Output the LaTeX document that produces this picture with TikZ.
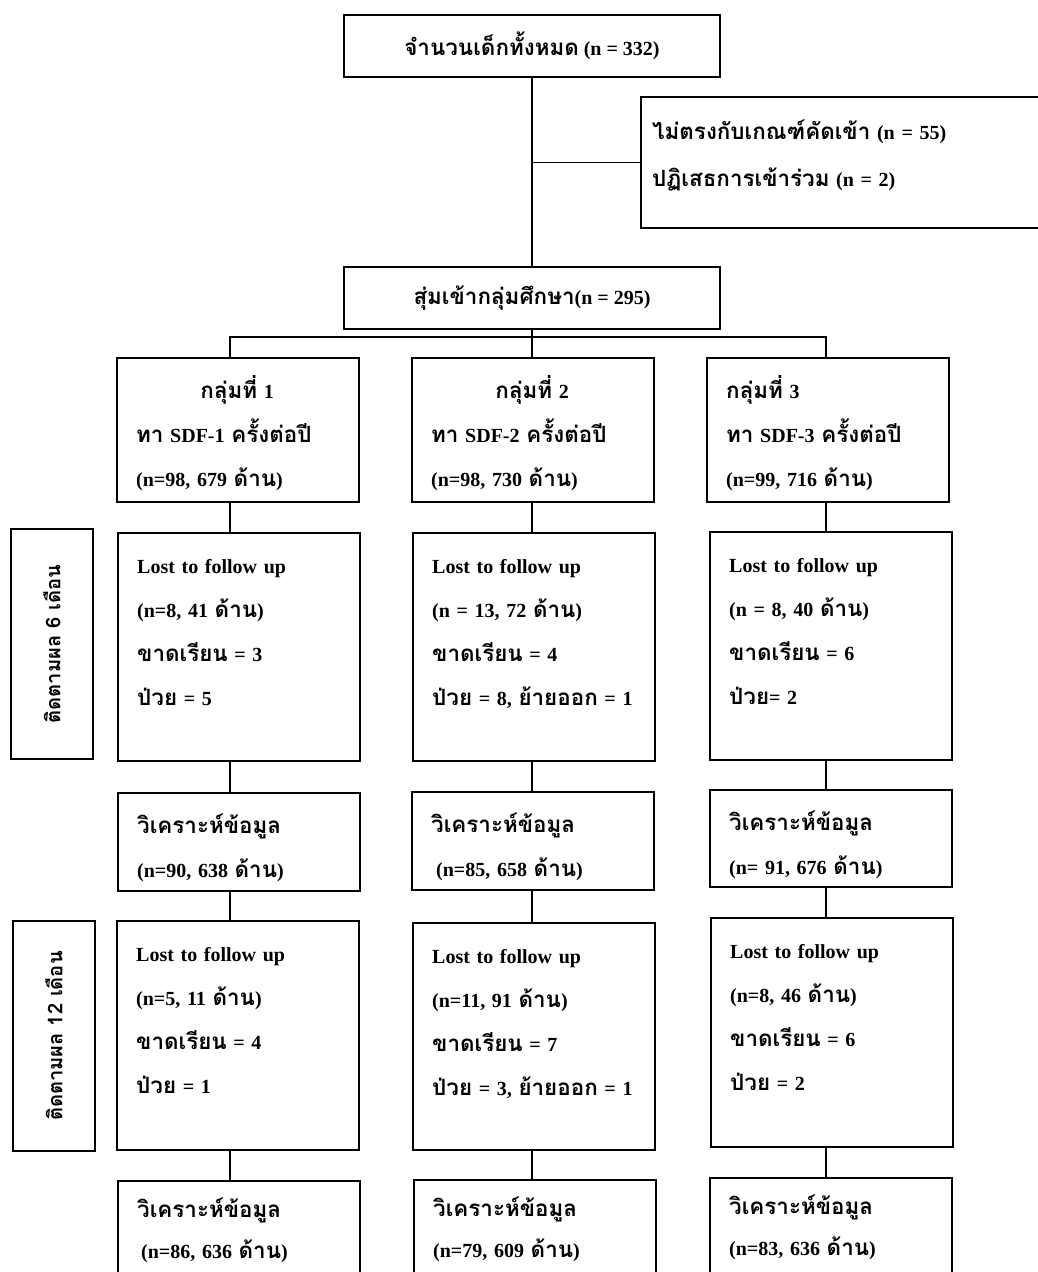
\documentclass[tikz,border=0pt]{standalone}
\usepackage{fontspec}
\setmainfont{Liberation Serif}
\newfontfamily\thaifont[Script=Thai,Scale=1.12]{Loma}
\newcommand{\thw}[1]{{\thaifont #1}}
\tikzset{
  flowbox/.style={draw, line width=1.6pt, anchor=north west, minimum width=242pt, inner sep=0pt},
  flowtext/.style={anchor=base west, align=left, text width=202pt, inner sep=0pt, xshift=20pt, yshift=-41pt},
  flowline/.style={line width=1.6pt},
  sidebox/.style={draw, line width=1.6pt, rotate=90, minimum width=230pt, minimum height=82pt, inner sep=0pt, font=\fontsize{18}{20}\selectfont\bfseries}
}
\begin{document}
\begin{tikzpicture}[
    x=1pt, y=-1pt,
    every node/.style={font=\fontsize{20}{44}\selectfont\bfseries}
  ]
  \path[use as bounding box] (0,0) rectangle (1038,1272);
  \clip (0,0) rectangle (1038,1272);

  % enrolment
  \node[draw, line width=1.6pt, minimum width=376pt, minimum height=62pt] (total) at (532,46) {\thw{จำนวนเด็กทั้งหมด} (n = 332)};
  \node[flowbox, minimum width=430pt, minimum height=131pt] (excl) at (640,96) {};
  \node[flowtext, text width=380pt, xshift=-8pt, yshift=-2pt] (exclt) at (excl.north west) {\thw{ไม่ตรงกับเกณฑ์คัดเข้า} (n = 55)\\[3pt]\thw{ปฏิเสธการเข้าร่วม} (n = 2)};
  \node[draw, line width=1.6pt, minimum width=376pt, minimum height=62pt] (rand) at (532,298) {\thw{สุ่มเข้ากลุ่มศึกษา}(n = 295)};

  \coordinate (c1) at (230,337);
  \coordinate (c2) at (532,337);
  \coordinate (c3) at (826,337);

  % follow-up labels
  \node[sidebox] (side6) at (52,644) {\thw{ติดตามผล 6 เดือน}};
  \node[sidebox] (side12) at (54,1036) {\thw{ติดตามผล 12 เดือน}};

  % groups
  \node[flowbox, minimum height=144pt] (g1) at (116,357) {};
  \node[flowbox, minimum height=144pt] (g2) at (411,357) {};
  \node[flowbox, minimum height=144pt] (g3) at (706,357) {};
  \node[flowtext] (g1t) at (g1.north west) {\hspace*{\fill}\thw{กลุ่มที่} 1\hspace*{\fill}\mbox{}\\\thw{ทา} SDF-1 \thw{ครั้งต่อปี}\\(n=98, 679 \thw{ด้าน})};
  \node[flowtext] (g2t) at (g2.north west) {\hspace*{\fill}\thw{กลุ่มที่} 2\hspace*{\fill}\mbox{}\\\thw{ทา} SDF-2 \thw{ครั้งต่อปี}\\(n=98, 730 \thw{ด้าน})};
  \node[flowtext] (g3t) at (g3.north west) {\thw{กลุ่มที่} 3\\\thw{ทา} SDF-3 \thw{ครั้งต่อปี}\\(n=99, 716 \thw{ด้าน})};

  % 6 months
  \node[flowbox, minimum height=228pt] (l1) at (117,532) {};
  \node[flowbox, minimum height=228pt] (l2) at (412,532) {};
  \node[flowbox, minimum height=228pt] (l3) at (709,531) {};
  \node[flowtext] (l1t) at (l1.north west) {Lost to follow up\\(n=8, 41 \thw{ด้าน})\\\thw{ขาดเรียน} = 3\\\thw{ป่วย} = 5};
  \node[flowtext] (l2t) at (l2.north west) {Lost to follow up\\(n = 13, 72 \thw{ด้าน})\\\thw{ขาดเรียน} = 4\\\thw{ป่วย} = 8, \thw{ย้ายออก} = 1};
  \node[flowtext] (l3t) at (l3.north west) {Lost to follow up\\(n = 8, 40 \thw{ด้าน})\\\thw{ขาดเรียน} = 6\\\thw{ป่วย}= 2};

  \node[flowbox, minimum height=98pt] (a1) at (117,792) {};
  \node[flowbox, minimum height=98pt] (a2) at (411,791) {};
  \node[flowbox, minimum height=97pt] (a3) at (709,789) {};
  \node[flowtext] (a1t) at (a1.north west) {\thw{วิเคราะห์ข้อมูล}\\(n=90, 638 \thw{ด้าน})};
  \node[flowtext] (a2t) at (a2.north west) {\thw{วิเคราะห์ข้อมูล}\\\hspace*{5pt}(n=85, 658 \thw{ด้าน})};
  \node[flowtext] (a3t) at (a3.north west) {\thw{วิเคราะห์ข้อมูล}\\(n= 91, 676 \thw{ด้าน})};

  % 12 months
  \node[flowbox, minimum height=229pt] (m1) at (116,920) {};
  \node[flowbox, minimum height=227pt] (m2) at (412,922) {};
  \node[flowbox, minimum height=229pt] (m3) at (710,917) {};
  \node[flowtext] (m1t) at (m1.north west) {Lost to follow up\\(n=5, 11 \thw{ด้าน})\\\thw{ขาดเรียน} = 4\\\thw{ป่วย} = 1};
  \node[flowtext] (m2t) at (m2.north west) {Lost to follow up\\(n=11, 91 \thw{ด้าน})\\\thw{ขาดเรียน} = 7\\\thw{ป่วย} = 3, \thw{ย้ายออก} = 1};
  \node[flowtext] (m3t) at (m3.north west) {Lost to follow up\\(n=8, 46 \thw{ด้าน})\\\thw{ขาดเรียน} = 6\\\thw{ป่วย} = 2};

  \node[flowbox, minimum height=120pt] (b1) at (117,1180) {};
  \node[flowbox, minimum height=120pt] (b2) at (413,1179) {};
  \node[flowbox, minimum height=120pt] (b3) at (709,1177) {};
  \node[flowtext, yshift=4pt] (b1t) at (b1.north west) {\thw{วิเคราะห์ข้อมูล}\\[-3pt]\hspace*{4pt}(n=86, 636 \thw{ด้าน})};
  \node[flowtext, yshift=4pt] (b2t) at (b2.north west) {\thw{วิเคราะห์ข้อมูล}\\[-3pt](n=79, 609 \thw{ด้าน})};
  \node[flowtext, yshift=4pt] (b3t) at (b3.north west) {\thw{วิเคราะห์ข้อมูล}\\[-3pt](n=83, 636 \thw{ด้าน})};

  % connectors
  \draw[flowline] (total.south) -- (rand.north);
  \draw[flowline] (total.south |- excl.west) -- (excl.west);
  \draw[flowline] (rand.south) -- (g2.north -| c2);
  \draw[flowline] (g1.north -| c1) -- (c1) -- (c3) -- (g3.north -| c3);
  \foreach \col in {1,2,3} {
    \draw[flowline] (g\col.south -| c\col) -- (l\col.north -| c\col);
    \draw[flowline] (l\col.south -| c\col) -- (a\col.north -| c\col);
    \draw[flowline] (a\col.south -| c\col) -- (m\col.north -| c\col);
    \draw[flowline] (m\col.south -| c\col) -- (b\col.north -| c\col);
  }
\end{tikzpicture}
\end{document}
